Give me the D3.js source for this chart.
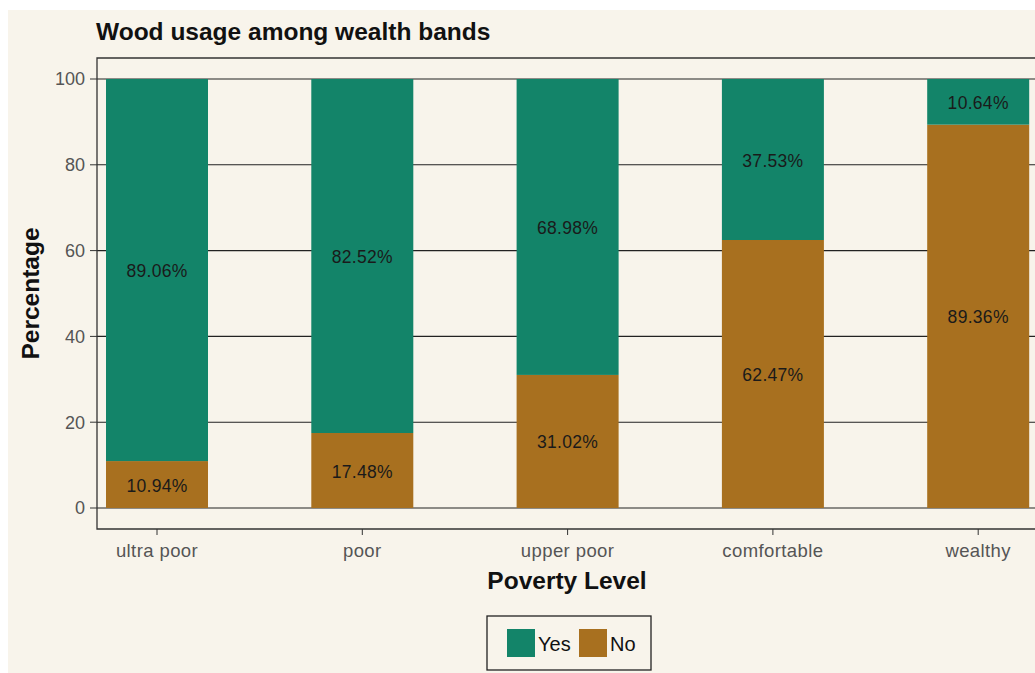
<!DOCTYPE html>
<html>
<head>
<meta charset="utf-8">
<script src="https://cdn.jsdelivr.net/npm/d3@7"></script>
<style>
  body { margin: 0; background: #ffffff; }
  svg { display: block; font-family: "Liberation Sans", Arial, sans-serif; }
</style>
</head>
<body>
<div id="chart"></div>
<script>
const levels = ["ultra poor", "poor", "upper poor", "comfortable", "wealthy"];
const yesPct = [89.06, 82.52, 68.98, 37.53, 10.64];
const noPct = [10.94, 17.48, 31.02, 62.47, 89.36];
const yTicks = [0, 20, 40, 60, 80, 100];
const series = ["Yes", "No"];

const width = 1035, height = 673;
const colors = { Yes: "#138469", No: "#a8701f" };

const svg = d3.select("#chart").append("svg")
    .attr("width", width)
    .attr("height", height);

// beige plot background
svg.append("rect")
    .attr("x", 8).attr("y", 10)
    .attr("width", width - 8).attr("height", height - 10)
    .attr("fill", "#f8f4eb");

const panel = { left: 97, top: 58, bottom: 529 };

const x = d3.scaleLinear().domain([0, 1]).range([157, 362.3]);
const barW = 102;
const y = d3.scaleLinear().domain([0, 100]).range([508, 79]);

// gridlines
svg.append("g")
    .selectAll("line")
    .data(yTicks)
    .join("line")
    .attr("x1", panel.left).attr("x2", width)
    .attr("y1", d => y(d)).attr("y2", d => y(d))
    .attr("stroke", "#222")
    .attr("stroke-width", 1.1);

// stacked bars: No at bottom, Yes on top
const rows = levels.map((lv, i) => ({ lv, i, yes: yesPct[i], no: noPct[i] }));

const bars = svg.append("g");
bars.selectAll("rect.no")
    .data(rows)
    .join("rect")
    .attr("class", "no")
    .attr("x", d => x(d.i) - barW / 2)
    .attr("width", barW)
    .attr("y", d => y(d.no))
    .attr("height", d => y(0) - y(d.no))
    .attr("fill", colors.No);

bars.selectAll("rect.yes")
    .data(rows)
    .join("rect")
    .attr("class", "yes")
    .attr("x", d => x(d.i) - barW / 2)
    .attr("width", barW)
    .attr("y", d => y(d.no + d.yes))
    .attr("height", d => y(d.no) - y(d.no + d.yes))
    .attr("fill", colors.Yes);

// value labels
const labels = svg.append("g")
    .attr("font-size", "17.5px")
    .attr("letter-spacing", "0.3px")
    .attr("fill", "#1a1a1a")
    .attr("text-anchor", "middle");

labels.selectAll("text.no")
    .data(rows)
    .join("text")
    .attr("x", d => x(d.i))
    .attr("y", d => y(d.no / 2))
    .attr("dy", "0.4em")
    .text(d => d.no.toFixed(2) + "%");

labels.selectAll("text.yes")
    .data(rows)
    .join("text")
    .attr("x", d => x(d.i))
    .attr("y", d => y(d.no + d.yes / 2))
    .attr("dy", "0.4em")
    .text(d => d.yes.toFixed(2) + "%");

// panel border
svg.append("path")
    .attr("d", `M${width + 2},${panel.top}H${panel.left}V${panel.bottom}H${width + 2}`)
    .attr("fill", "none")
    .attr("stroke", "#333")
    .attr("stroke-width", 1.3);

// y axis
const yAxis = svg.append("g");
yAxis.selectAll("line")
    .data(yTicks)
    .join("line")
    .attr("x1", panel.left - 7).attr("x2", panel.left)
    .attr("y1", d => y(d)).attr("y2", d => y(d))
    .attr("stroke", "#333");
yAxis.selectAll("text")
    .data(yTicks)
    .join("text")
    .attr("x", panel.left - 12)
    .attr("y", d => y(d))
    .attr("dy", "0.36em")
    .attr("text-anchor", "end")
    .attr("font-size", "18px")
    .attr("fill", "#555")
    .text(d => d);

// x axis
const xAxis = svg.append("g");
xAxis.selectAll("line")
    .data(rows)
    .join("line")
    .attr("x1", d => x(d.i)).attr("x2", d => x(d.i))
    .attr("y1", panel.bottom).attr("y2", panel.bottom + 6)
    .attr("stroke", "#333");
xAxis.selectAll("text")
    .data(rows)
    .join("text")
    .attr("x", d => x(d.i))
    .attr("y", panel.bottom + 28)
    .attr("text-anchor", "middle")
    .attr("font-size", "18.5px")
    .attr("letter-spacing", "0.4px")
    .attr("fill", "#555")
    .text(d => d.lv);

// titles
svg.append("text")
    .attr("x", 96).attr("y", 40)
    .attr("font-size", "24.5px")
    .attr("font-weight", "bold")
    .attr("fill", "#111")
    .text("Wood usage among wealth bands");

svg.append("text")
    .attr("x", 567).attr("y", 589)
    .attr("text-anchor", "middle")
    .attr("font-size", "24.5px")
    .attr("font-weight", "bold")
    .attr("fill", "#111")
    .text("Poverty Level");

svg.append("text")
    .attr("transform", `translate(39,${y(50)}) rotate(-90)`)
    .attr("text-anchor", "middle")
    .attr("font-size", "24.5px")
    .attr("font-weight", "bold")
    .attr("fill", "#111")
    .text("Percentage");

// legend
const legend = svg.append("g").attr("transform", "translate(487,616)");
legend.append("rect")
    .attr("width", 164).attr("height", 54)
    .attr("fill", "none")
    .attr("stroke", "#222")
    .attr("stroke-width", 1.3);

const items = legend.selectAll("g.item")
    .data(series)
    .join("g")
    .attr("class", "item")
    .attr("transform", (d, i) => `translate(${20 + i * 72},13)`);
items.append("rect")
    .attr("width", 28).attr("height", 28)
    .attr("fill", d => colors[d]);
items.append("text")
    .attr("x", 31).attr("y", 15)
    .attr("dy", "0.36em")
    .attr("font-size", "20px")
    .attr("fill", "#111")
    .text(d => d);
</script>
</body>
</html>
